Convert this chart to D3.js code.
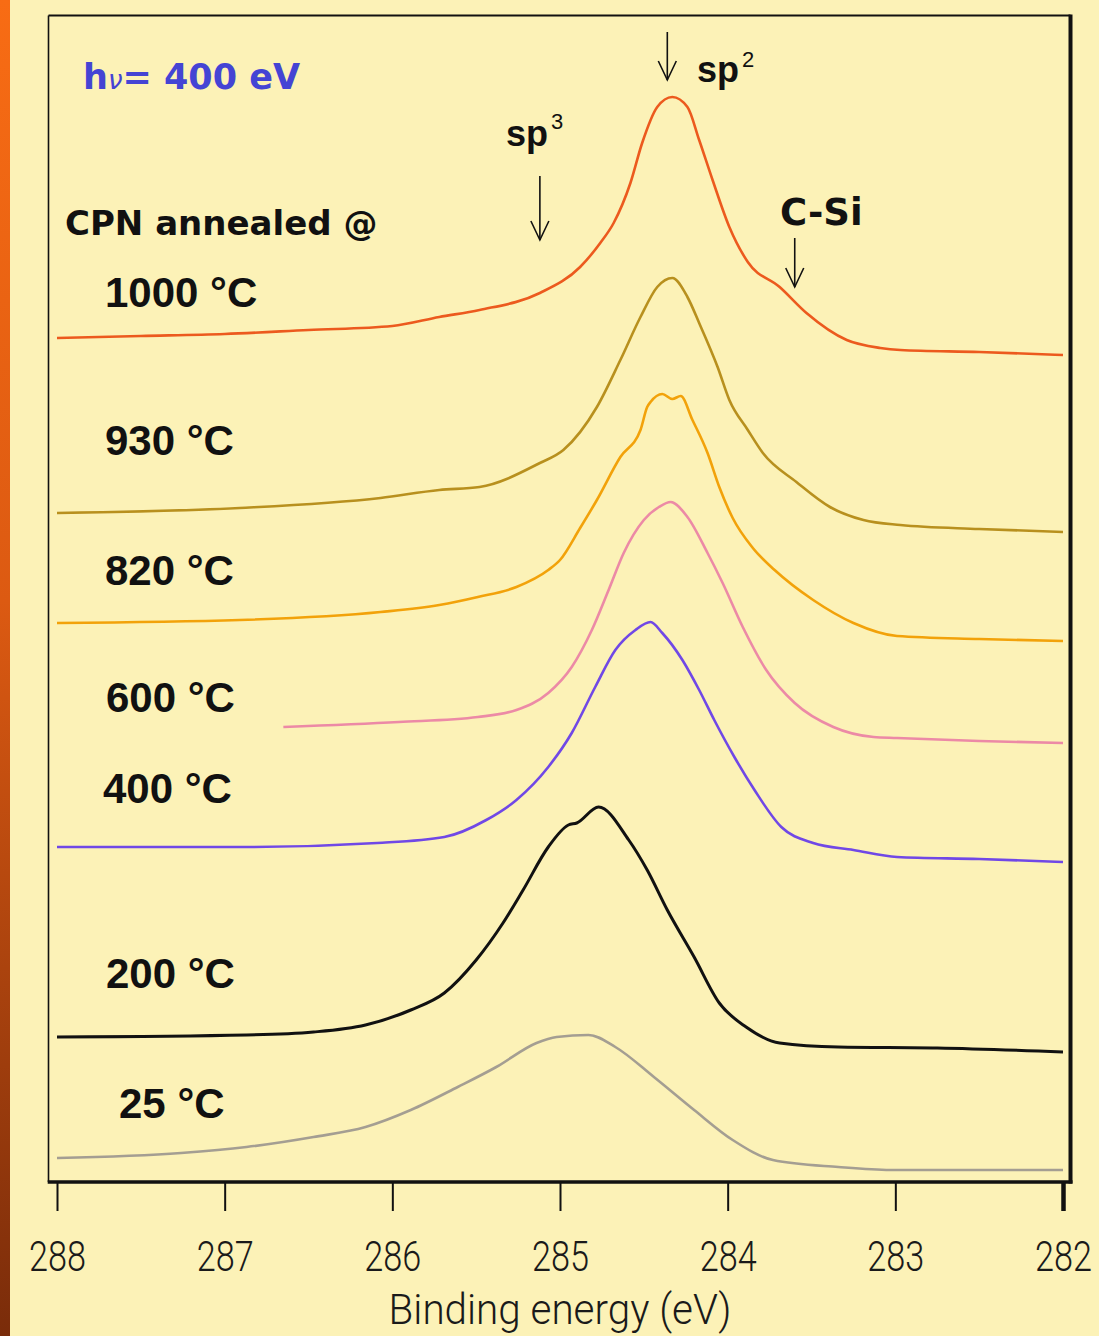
<!DOCTYPE html>
<html>
<head>
<meta charset="utf-8">
<script src="https://cdn.jsdelivr.net/npm/d3@7"></script>
<style>
  html, body { margin: 0; padding: 0; background: #fcf2b7; }
  svg { display: block; }
</style>
</head>
<body>
<script>
// C 1s photoemission spectra of CPN films, offset vertically by anneal temperature.
// Each spectrum: [binding energy (eV), intensity (arb. units, offset)]
const spectrum1000 = [[288.00,84.3],[287.50,84.5],[287.00,84.7],[286.50,85.1],[286.00,85.5],[285.72,86.4],[285.48,87.1],[285.12,88.8],[284.88,91.4],[284.76,93.8],[284.68,95.8],[284.58,99.8],[284.51,103.8],[284.42,107.4],[284.33,108.4],[284.24,107.4],[284.17,104.1],[284.09,100.1],[283.99,95.4],[283.88,91.9],[283.69,89.4],[283.53,86.8],[283.29,84.1],[283.09,83.3],[282.97,83.1],[282.50,82.9],[282.00,82.6]];
const spectrum930 = [[288.00,66.8],[286.91,67.3],[286.07,68.3],[285.72,69.1],[285.48,69.4],[285.12,71.8],[284.98,73.1],[284.78,77.4],[284.64,82.1],[284.52,86.4],[284.42,89.4],[284.33,90.3],[284.24,88.4],[284.17,85.8],[284.06,81.4],[283.99,78.1],[283.88,75.1],[283.79,72.8],[283.59,69.9],[283.39,67.4],[283.19,66.1],[282.97,65.6],[282.50,65.2],[282.00,64.9]];
const spectrum820 = [[288.00,55.8],[286.91,56.1],[286.07,56.9],[285.72,57.6],[285.49,58.4],[285.26,59.4],[285.07,61.1],[285.00,62.1],[284.88,65.3],[284.78,68.1],[284.64,72.4],[284.52,75.1],[284.48,77.4],[284.46,77.9],[284.39,78.7],[284.33,78.2],[284.28,78.5],[284.21,76.1],[284.12,72.8],[284.05,69.4],[283.97,66.3],[283.85,63.3],[283.72,61.1],[283.49,58.1],[283.25,55.8],[282.99,54.5],[282.50,54.2],[282.00,54.0]];
const spectrum600 = [[286.65,45.4],[285.96,45.9],[285.49,46.4],[285.26,47.1],[285.07,48.8],[284.93,51.4],[284.81,55.1],[284.71,59.1],[284.62,62.8],[284.50,66.1],[284.41,67.4],[284.34,67.9],[284.24,66.4],[284.12,62.8],[284.03,59.8],[283.91,55.4],[283.77,51.1],[283.60,47.8],[283.37,45.4],[283.13,44.4],[282.99,44.3],[282.50,44.0],[282.00,43.8]];
const spectrum400 = [[288.00,33.4],[286.87,33.4],[286.09,33.8],[285.69,34.4],[285.44,36.1],[285.26,38.1],[285.07,41.4],[284.93,44.8],[284.79,49.4],[284.67,53.1],[284.55,55.1],[284.46,55.9],[284.39,54.8],[284.27,52.1],[284.17,49.1],[284.08,46.1],[283.96,42.4],[283.84,39.1],[283.68,35.4],[283.49,33.8],[283.25,33.1],[282.99,32.4],[282.50,32.2],[282.00,31.9]];
const spectrum200 = [[288.00,14.4],[286.87,14.6],[286.47,14.9],[286.16,15.6],[285.89,17.1],[285.69,18.8],[285.50,22.1],[285.34,25.8],[285.22,29.1],[285.07,33.4],[284.95,35.6],[284.90,35.8],[284.77,37.4],[284.59,34.1],[284.48,31.1],[284.36,27.1],[284.20,22.4],[284.05,17.8],[283.89,15.4],[283.69,13.8],[283.34,13.4],[282.75,13.3],[282.00,12.9]];
const spectrum25 = [[288.00,2.3],[287.26,2.8],[286.87,3.4],[286.47,4.4],[286.16,5.4],[285.89,7.1],[285.61,9.4],[285.38,11.4],[285.14,13.8],[285.02,14.4],[284.83,14.6],[284.67,13.4],[284.44,10.4],[284.20,7.1],[283.97,4.1],[283.73,2.1],[283.34,1.4],[283.03,1.1],[282.00,1.1]];

const temperatureLabels = ["1000 °C", "930 °C", "820 °C", "600 °C", "400 °C", "200 °C", "25 °C"];
const spectra = [spectrum1000, spectrum930, spectrum820, spectrum600, spectrum400, spectrum200, spectrum25];

// Binding-energy axis
const energyTicks = [288, 287, 286, 285, 284, 283, 282];
const energyDomain = [288, 282];
const intensityDomain = [0, 116.6];

// Chemical-state markers (binding energy, eV)
const peakMarkers = [
  { name: "sp", sup: "3", energy: 285.12 },
  { name: "sp", sup: "2", energy: 284.36 },
  { name: "C-Si", sup: "", energy: 283.60 }
];

// ---- styling / layout ----
const W = 1099, H = 1336;
const lineColors = ["#ec5a1e", "#b8901e", "#f2a20a", "#ec8aa6", "#7048e6", "#111111", "#a49e92"];
const labelLayout = [
  { x: 105, y: 307 }, { x: 105, y: 455 }, { x: 105, y: 585 }, { x: 106, y: 712 },
  { x: 103, y: 803 }, { x: 106, y: 988 }, { x: 119, y: 1118 }
];
const axisFont = "Roboto, 'Liberation Sans', sans-serif";

const svg = d3.select("body").append("svg").attr("width", W).attr("height", H);

const defs = svg.append("defs");
const grad = defs.append("linearGradient").attr("id", "edgeStrip")
  .attr("x1", 0).attr("y1", 0).attr("x2", 0).attr("y2", 1);
grad.append("stop").attr("offset", "0%").attr("stop-color", "#f86c14");
grad.append("stop").attr("offset", "45%").attr("stop-color", "#dc5a12");
grad.append("stop").attr("offset", "100%").attr("stop-color", "#7a2c0a");

svg.append("rect").attr("width", W).attr("height", H).attr("fill", "#fcf2b7");
svg.append("rect").attr("x", 0).attr("y", 0).attr("width", 10).attr("height", H).attr("fill", "url(#edgeStrip)");

const x = d3.scaleLinear().domain(energyDomain).range([57, 1063]);
const y = d3.scaleLinear().domain(intensityDomain).range([1181, 15]);

// Frame around the plot
const frameL = 48.5, frameR = 1070.5, frameT = 15.5, frameB = 1182;
const frame = svg.append("g").attr("stroke", "#111").attr("fill", "none");
frame.append("line").attr("x1", frameL).attr("x2", frameR).attr("y1", frameT).attr("y2", frameT).attr("stroke-width", 2);
frame.append("line").attr("x1", frameL).attr("x2", frameL).attr("y1", frameT).attr("y2", frameB).attr("stroke-width", 1.6);
frame.append("line").attr("x1", frameR).attr("x2", frameR).attr("y1", frameT - 1).attr("y2", frameB + 1.5).attr("stroke-width", 4);
frame.append("line").attr("x1", frameL - 0.8).attr("x2", frameR + 2).attr("y1", frameB).attr("y2", frameB).attr("stroke-width", 3.5);

// Bottom axis
const axis = d3.axisBottom(x).tickValues(energyTicks).tickSize(29).tickPadding(30).tickFormat(d3.format("d"));
const gx = svg.append("g").attr("transform", `translate(0,${frameB})`).call(axis);
gx.select(".domain").remove();
gx.selectAll(".tick line").attr("stroke", "#111").attr("stroke-width", d => d === 282 ? 4.5 : 2);
gx.selectAll(".tick text")
  .attr("fill", "#1a1a1a")
  .attr("font-family", axisFont)
  .attr("font-weight", 300)
  .attr("font-size", 42)
  .attr("dy", "0.71em")
  .each(function () {
    const w = this.getComputedTextLength();
    d3.select(this).attr("transform", `scale(${57 / w},1)`);
  });

const title = svg.append("text")
  .attr("text-anchor", "middle")
  .attr("font-family", axisFont)
  .attr("font-weight", 300)
  .attr("font-size", 42)
  .attr("fill", "#1a1a1a")
  .text("Binding energy (eV)");
const titleW = title.node().getComputedTextLength();
title.attr("transform", `translate(${x(285)},1324) scale(${343 / titleW},1)`);

// Spectra
const line = d3.line().x(d => x(d[0])).y(d => y(d[1])).curve(d3.curveMonotoneX);
svg.append("g").selectAll("path").data(spectra).join("path")
  .attr("d", line)
  .attr("fill", "none")
  .attr("stroke", (d, i) => lineColors[i])
  .attr("stroke-width", (d, i) => i === 5 ? 3 : 2.6)
  .attr("stroke-linejoin", "round");

// Temperature labels
svg.append("g").selectAll("text").data(temperatureLabels).join("text")
  .attr("x", (d, i) => labelLayout[i].x)
  .attr("y", (d, i) => labelLayout[i].y)
  .attr("font-family", "'Liberation Sans', sans-serif")
  .attr("font-weight", "bold")
  .attr("font-size", 42)
  .attr("fill", "#111")
  .text(d => d);

svg.append("text")
  .attr("x", 65).attr("y", 235)
  .attr("font-family", "'DejaVu Sans', sans-serif")
  .attr("font-weight", "bold")
  .attr("font-size", 34)
  .attr("fill", "#111")
  .text("CPN annealed @");

const hv = svg.append("text")
  .attr("x", 83).attr("y", 89)
  .attr("font-family", "'DejaVu Sans', sans-serif")
  .attr("font-weight", "bold")
  .attr("font-size", 35)
  .attr("fill", "#4444d4");
hv.append("tspan").text("h");
hv.append("tspan").attr("font-size", 26).attr("font-style", "italic").attr("font-weight", "normal").text("ν");
hv.append("tspan").text("= 400 eV");

// Peak markers: arrow + label
const markerLayout = [
  { arrowTop: 176, arrowBottom: 240, textX: 506, textY: 146, supDy: -17 },
  { arrowTop: 32, arrowBottom: 80, textX: 697, textY: 82, supDy: -15 }
  , { arrowTop: 238, arrowBottom: 287, textX: 780, textY: 225, supDy: 0 }
];
const markers = svg.append("g");
peakMarkers.forEach((m, i) => {
  const L = markerLayout[i];
  const ax = x(m.energy);
  const g = markers.append("g").attr("stroke", "#111").attr("stroke-width", 1.6).attr("fill", "none");
  g.append("line").attr("x1", ax).attr("x2", ax).attr("y1", L.arrowTop).attr("y2", L.arrowBottom);
  g.append("path").attr("d", `M${ax - 9},${L.arrowBottom - 19}L${ax},${L.arrowBottom}L${ax + 9},${L.arrowBottom - 19}`);
  const t = markers.append("text")
    .attr("x", L.textX).attr("y", L.textY)
    .attr("fill", "#111");
  if (m.sup) {
    t.attr("font-family", "'Liberation Sans', sans-serif").attr("font-weight", "bold").attr("font-size", 36);
    t.append("tspan").text(m.name);
    t.append("tspan").attr("dx", 3).attr("dy", L.supDy)
      .attr("font-weight", "normal").attr("font-size", 22).text(m.sup);
  } else {
    t.attr("font-family", "'DejaVu Sans', sans-serif").attr("font-weight", "bold").attr("font-size", 37).text(m.name);
  }
});
</script>
</body>
</html>
